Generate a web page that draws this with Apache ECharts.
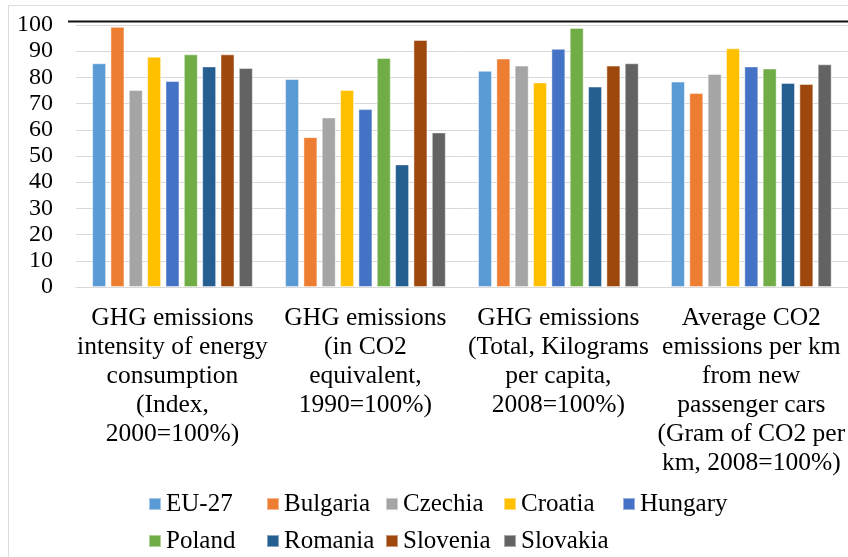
<!DOCTYPE html>
<html>
<head>
<meta charset="utf-8">
<script src="https://cdn.jsdelivr.net/npm/echarts@6/dist/echarts.min.js"></script>
<style>
  html, body { margin: 0; padding: 0; background: #fff; }
  #chart { width: 848px; height: 557px; }
</style>
</head>
<body>
<div id="chart"></div>
<script>
// Indicator groups along the category axis
const categories = [
  'GHG emissions\nintensity of energy\nconsumption\n(Index,\n2000=100%)',
  'GHG emissions\n(in CO2\nequivalent,\n1990=100%)',
  'GHG emissions\n(Total, Kilograms\nper capita,\n2008=100%)',
  'Average CO2\nemissions per km\nfrom new\npassenger cars\n(Gram of CO2 per\nkm, 2008=100%)'
];

// Value-axis ticks
const yTicks = [0, 10, 20, 30, 40, 50, 60, 70, 80, 90, 100];

// One array per country, in category order
const eu27     = [85.4, 79.4, 82.5, 78.4];
const bulgaria = [99.3, 57.2, 87.2, 74.0];
const czechia  = [75.2, 64.7, 84.5, 81.3];
const croatia  = [87.9, 75.2, 78.1, 91.1];
const hungary  = [78.6, 67.9, 90.9, 84.2];
const poland   = [88.8, 87.4, 98.9, 83.4];
const romania  = [84.2, 46.8, 76.5, 77.9];
const slovenia = [88.8, 94.3, 84.5, 77.5];
const slovakia = [83.6, 59.0, 85.4, 85.0];

const seriesNames = ['EU-27', 'Bulgaria', 'Czechia', 'Croatia', 'Hungary',
                     'Poland', 'Romania', 'Slovenia', 'Slovakia'];
const seriesData = [eu27, bulgaria, czechia, croatia, hungary,
                    poland, romania, slovenia, slovakia];
const colors = ['#5B9BD5', '#ED7D31', '#A5A5A5', '#FFC000', '#4472C4',
                '#70AD47', '#255E91', '#9E480E', '#636363'];

const serif = 'Liberation Serif, DejaVu Serif, serif';

// Legend laid out as fixed columns (two rows)
const legendColumns = [
  ['EU-27', 'Poland'],
  ['Bulgaria', 'Romania'],
  ['Czechia', 'Slovenia'],
  ['Croatia', 'Slovakia'],
  ['Hungary']
];
const legendX = [148, 266, 385, 503, 622];

const chart = echarts.init(document.getElementById('chart'));

chart.setOption({
  backgroundColor: '#ffffff',
  color: colors,
  animation: false,
  textStyle: { fontFamily: serif },
  grid: { left: 76, top: 25, width: 773, height: 262 },
  graphic: [
    {
      type: 'rect', z: -1, silent: true,
      shape: { x: 8.5, y: 5.5, width: 900, height: 600 },
      style: { fill: 'none', stroke: '#dcdcdc', lineWidth: 1 }
    },
    {
      type: 'line', silent: true,
      shape: { x1: 68, y1: 21.5, x2: 848, y2: 21.5 },
      style: { stroke: '#111', lineWidth: 2 }
    }
  ],
  legend: legendColumns.map((col, i) => ({
    data: col,
    orient: 'vertical',
    left: legendX[i],
    top: 490,
    padding: 0,
    itemWidth: 12,
    itemHeight: 12,
    itemGap: 9,
    icon: 'rect',
    selectedMode: false,
    textStyle: { fontFamily: serif, fontSize: 25, color: '#000', lineHeight: 28 }
  })),
  xAxis: {
    type: 'category',
    data: categories,
    axisLine: { lineStyle: { color: '#d9d9d9', width: 1 } },
    axisTick: { show: false },
    axisLabel: {
      interval: 0,
      margin: 17,
      fontFamily: serif,
      fontSize: 25.5,
      lineHeight: 29,
      color: '#000'
    }
  },
  yAxis: {
    type: 'value',
    min: yTicks[0],
    max: yTicks[yTicks.length - 1],
    interval: yTicks[1] - yTicks[0],
    axisLine: { show: false },
    axisTick: { show: false },
    splitLine: { lineStyle: { color: '#d9d9d9', width: 1 } },
    axisLabel: {
      margin: 23,
      fontFamily: serif,
      fontSize: 24,
      color: '#000'
    }
  },
  series: seriesNames.map((name, i) => ({
    name: name,
    type: 'bar',
    data: seriesData[i],
    barWidth: 14,
    barGap: '31%',
    itemStyle: { borderColor: 'rgba(255,255,255,0.45)', borderWidth: 1 }
  }))
});
</script>
</body>
</html>
